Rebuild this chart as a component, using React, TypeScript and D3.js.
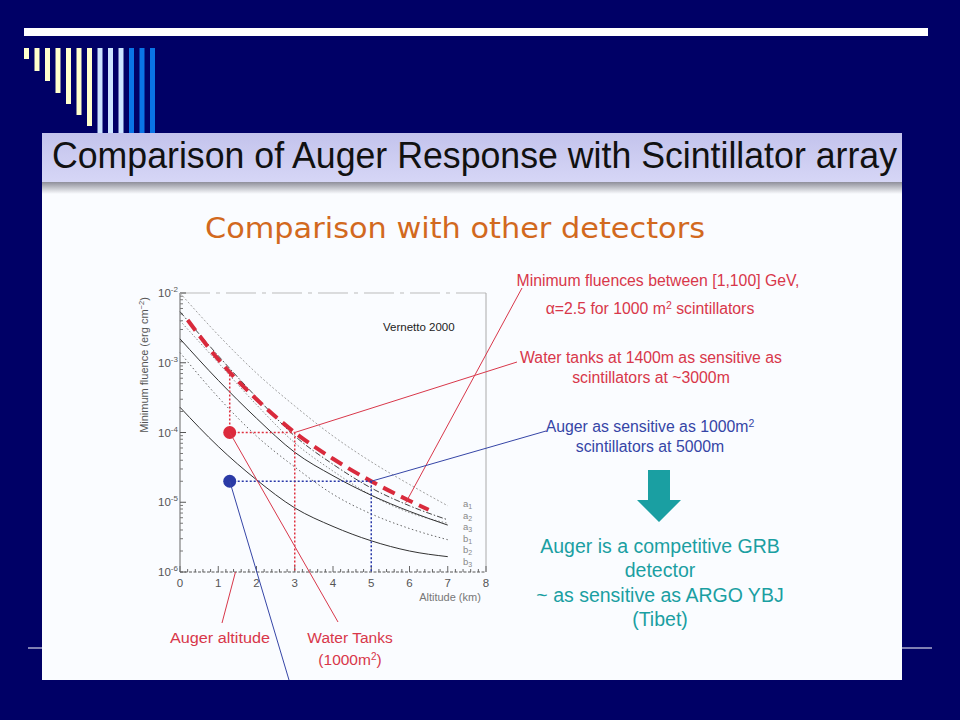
import React from 'react';
import * as d3 from 'd3';

// altitude grid (km) used by the six published curves
const altitudes = [0, 1, 2, 3, 4, 5, 6, 7];
// minimum fluence (erg cm^-2)
const curveA1 = [1.0e-2, 2.5e-3, 7.1e-4, 2.4e-4, 8.9e-5, 3.8e-5, 1.8e-5, 8.9e-6];
const curveA2 = [5.4e-3, 1.26e-3, 3.2e-4, 8.9e-5, 3.5e-5, 1.6e-5, 8.9e-6, 5.6e-6];
const curveA3 = [4.0e-3, 1.0e-3, 2.5e-4, 7.1e-5, 2.8e-5, 1.26e-5, 7.1e-6, 5.0e-6];
const curveB1 = [2.2e-3, 5.6e-4, 1.6e-4, 5.2e-5, 2.4e-5, 1.26e-5, 7.4e-6, 4.7e-6];
const curveB2 = [1.4e-3, 3.2e-4, 8.9e-5, 3.2e-5, 1.3e-5, 6.8e-6, 4.2e-6, 2.9e-6];
const curveB3 = [2.3e-4, 6.3e-5, 2.1e-5, 8.3e-6, 4.5e-6, 2.8e-6, 2.0e-6, 1.66e-6];

// highlighted scintillator curve (red dashed)
const redAlt = [0.2, 1, 2, 3, 4, 5, 6, 6.5];
const redFluence = [4.1e-3, 1.12e-3, 3.0e-4, 1.0e-4, 4.2e-5, 2.0e-5, 1.05e-5, 7.8e-6];

// marked points
const augerAlt = 1.3;
const tanksFluence = 1.0e-4;
const augerFluence = 2.0e-5;
const tanksEquivAlt = 3;
const augerEquivAlt = 5;
const tanksCurveFluence = 7.0e-4;
const augerAltMark = 1.45;

const xTicks = [0, 1, 2, 3, 4, 5, 6, 7, 8];
const yTickExps = [-2, -3, -4, -5, -6];
const legendLetters = ['a', 'a', 'a', 'b', 'b', 'b'];
const legendSubs = ['1', '2', '3', '1', '2', '3'];

const stripeLengths = [11, 23, 33, 45, 56, 67, 78, 85, 85, 85, 85, 85, 85];
const stripeColors = [
  '#ffffcc', '#ffffcc', '#ffffcc', '#ffffcc', '#ffffcc', '#ffffcc', '#ffffcc',
  '#cce4ff', '#cce4ff', '#cce4ff', '#0a74e6', '#0a74e6', '#0a74e6',
];

const RED = '#d8374a';
const BLUE = '#3545a6';
const TEAL = '#1a9fa2';

const x = d3.scaleLinear().domain([0, 8]).range([180, 486]);
const y = d3.scaleLog().domain([1e-6, 1e-2]).range([572, 293]);

const line = d3
  .line<[number, number]>()
  .x(d => x(d[0]))
  .y(d => y(d[1]))
  .curve(d3.curveMonotoneX);

const curves = [
  { values: curveA1, stroke: '#a0a0a0', dash: '2 2', w: 1 },
  { values: curveA2, stroke: '#444', dash: '6 2 1.5 2', w: 1 },
  { values: curveA3, stroke: '#888', dash: '1.5 2', w: 1 },
  { values: curveB1, stroke: '#333', dash: null, w: 1 },
  { values: curveB2, stroke: '#666', dash: '1.5 2.5', w: 1 },
  { values: curveB3, stroke: '#333', dash: null, w: 1 },
];

const minorY: number[] = [];
for (let e = -6; e < -2; e++) {
  for (let m = 2; m <= 9; m++) minorY.push(m * Math.pow(10, e));
}
const minorX = d3.range(0, 8.01, 0.2);

const App: React.FC = () => {
  const sans = "'Liberation Sans', Arial, sans-serif";
  const px = x(augerAlt);
  const redPt = [x(tanksEquivAlt), y(tanksFluence)];
  const bluePt = [x(augerEquivAlt), y(augerFluence)];
  const leaderOnCurve = [x(5.9), y(9.8e-6)];

  return (
    <svg
      width={960}
      height={720}
      style={{ position: 'absolute', left: 0, top: 0 }}
      fontFamily={sans}
    >
      <defs>
        <linearGradient id="hdr" x1="0" y1="0" x2="0" y2="1">
          <stop offset="0%" stopColor="#c3c3ec" />
          <stop offset="100%" stopColor="#d6d6f6" />
        </linearGradient>
        <linearGradient id="shadow" x1="0" y1="0" x2="0" y2="1">
          <stop offset="0%" stopColor="#8f8f9a" />
          <stop offset="100%" stopColor="#fafcff" />
        </linearGradient>
      </defs>
      <rect width={960} height={720} fill="#000066" />
      <rect x={24} y={28} width={904} height={8} fill="#ffffff" />
      {stripeLengths.map((len, i) => (
        <rect key={i} x={24 + i * 10.5} y={48} width={5} height={len} fill={stripeColors[i]} />
      ))}
      <line x1={28} x2={932} y1={648} y2={648} stroke="#ffffff" strokeWidth={1} />

      {/* slide picture */}
      <rect x={42} y={133} width={860} height={547} fill="#fafcff" />
      <rect x={42} y={133} width={860} height={49} fill="url(#hdr)" />
      <rect x={42} y={182} width={860} height={12} fill="url(#shadow)" />
      <text
        x={52}
        y={168}
        fontSize={36}
        fill="#111"
        fontFamily="'Liberation Sans Narrow', 'Liberation Sans', Arial, sans-serif"
        textLength={845}
        lengthAdjust="spacingAndGlyphs"
      >
        Comparison of Auger Response with Scintillator array
      </text>
      <text
        x={205}
        y={238}
        fontSize={28}
        fill="#d2691e"
        fontFamily="'DejaVu Sans', sans-serif"
        textLength={500}
        lengthAdjust="spacingAndGlyphs"
      >
        Comparison with other detectors
      </text>

      {/* frame */}
      <line x1={x(0)} x2={x(8)} y1={y(1e-2)} y2={y(1e-2)} stroke="#bbb" strokeDasharray="30 6 4 6" />
      <line x1={x(8)} x2={x(8)} y1={y(1e-2)} y2={y(1e-6)} stroke="#aaa" />
      <line x1={x(0)} x2={x(0)} y1={y(1e-2)} y2={y(1e-6)} stroke="#666" />
      <line x1={x(0)} x2={x(8)} y1={y(1e-6)} y2={y(1e-6)} stroke="#555" strokeDasharray="3 1.5" />
      {minorY.map((v, i) => (
        <line key={i} x1={x(0)} x2={x(0) + 3} y1={y(v)} y2={y(v)} stroke="#777" />
      ))}
      {yTickExps.map(e => (
        <line key={e} x1={x(0)} x2={x(0) + 6} y1={y(Math.pow(10, e))} y2={y(Math.pow(10, e))} stroke="#555" />
      ))}
      {minorX.map((v, i) => (
        <line key={i} x1={x(v)} x2={x(v)} y1={y(1e-6)} y2={y(1e-6) - (i % 5 === 0 ? 6 : 3)} stroke="#666" />
      ))}
      {yTickExps.map(e => (
        <text key={e} x={158} y={y(Math.pow(10, e)) + 4} fontSize={11.5} fill="#555">
          10
          <tspan dy={-5} fontSize={8}>{`-${-e}`}</tspan>
        </text>
      ))}
      {xTicks.map(t => (
        <text key={t} x={x(t)} y={587} fontSize={11.5} fill="#555" textAnchor="middle">
          {t}
        </text>
      ))}
      <text x={450} y={601} fontSize={11} fill="#777" textAnchor="middle">
        Altitude (km)
      </text>
      <text
        transform="translate(148,365) rotate(-90)"
        fontSize={11}
        fill="#555"
        textAnchor="middle"
      >
        Minimum fluence (erg cm
        <tspan dy={-4} fontSize={7.5}>−2</tspan>
        <tspan dy={4}>)</tspan>
      </text>
      <text x={383} y={331} fontSize={11.5} fill="#222">
        Vernetto 2000
      </text>
      {legendLetters.map((l, i) => (
        <text key={i} x={463} y={507 + i * 11.5} fontSize={9.5} fill="#888">
          {l}
          <tspan dy={2} fontSize={7}>{legendSubs[i]}</tspan>
        </text>
      ))}

      {/* curves */}
      {curves.map((c, i) => (
        <path
          key={i}
          d={line(altitudes.map((a, j) => [a, c.values[j]] as [number, number])) || ''}
          fill="none"
          stroke={c.stroke}
          strokeWidth={c.w}
          strokeDasharray={c.dash || undefined}
        />
      ))}
      <path
        d={line(redAlt.map((a, j) => [a, redFluence[j]] as [number, number])) || ''}
        fill="none"
        stroke="#d92a3c"
        strokeWidth={4}
        strokeDasharray="13 7"
      />

      {/* guide lines */}
      <line x1={px} x2={px} y1={y(tanksFluence)} y2={y(tanksCurveFluence)} stroke="#e0303f" strokeWidth={1.5} strokeDasharray="2 2" />
      <line x1={px} x2={redPt[0]} y1={redPt[1]} y2={redPt[1]} stroke="#e0303f" strokeWidth={1.5} strokeDasharray="2 2" />
      <line x1={redPt[0]} x2={redPt[0]} y1={redPt[1]} y2={y(1e-6)} stroke="#e0303f" strokeWidth={1.5} strokeDasharray="2 2" />
      <line x1={px} x2={bluePt[0]} y1={bluePt[1]} y2={bluePt[1]} stroke="#2838a8" strokeWidth={1.5} strokeDasharray="2 2" />
      <line x1={bluePt[0]} x2={bluePt[0]} y1={bluePt[1]} y2={y(1e-6)} stroke="#2838a8" strokeWidth={1.5} strokeDasharray="2 2" />
      <circle cx={px} cy={y(tanksFluence)} r={6.5} fill="#dc2a3c" />
      <circle cx={px} cy={y(augerFluence)} r={6.5} fill="#2a3aa6" />

      {/* leader lines */}
      <line x1={redPt[0]} y1={redPt[1]} x2={517} y2={362} stroke={RED} strokeWidth={1} />
      <line x1={leaderOnCurve[0]} y1={leaderOnCurve[1]} x2={522} y2={288} stroke={RED} strokeWidth={1} />
      <line x1={bluePt[0]} y1={bluePt[1]} x2={546} y2={431} stroke={BLUE} strokeWidth={1} />
      <line x1={px} y1={y(tanksFluence)} x2={338} y2={622} stroke={RED} strokeWidth={1} />
      <line x1={px} y1={y(augerFluence)} x2={289} y2={680} stroke={BLUE} strokeWidth={1} />
      <line x1={x(augerAltMark)} y1={y(1e-6)} x2={222} y2={623} stroke={RED} strokeWidth={1} />

      {/* annotation texts */}
      <g fontSize={15.8} textAnchor="middle">
        <text x={658} y={286} fill={RED}>Minimum fluences between [1,100] GeV,</text>
        <text x={650} y={314} fill={RED}>
          α=2.5 for 1000 m<tspan dy={-5} fontSize={10.5}>2</tspan>
          <tspan dy={5}> scintillators</tspan>
        </text>
        <text x={651} y={363} fill={RED}>Water tanks at 1400m as sensitive as</text>
        <text x={651} y={383} fill={RED}>scintillators at ~3000m</text>
        <text x={650} y={432} fill={BLUE}>
          Auger as sensitive as 1000m<tspan dy={-5} fontSize={10.5}>2</tspan>
        </text>
        <text x={650} y={452} fill={BLUE}>scintillators at 5000m</text>
      </g>
      <g fontSize={15.5} textAnchor="middle">
        <text x={220} y={643} fill={RED} textLength={100} lengthAdjust="spacingAndGlyphs">Auger altitude</text>
        <text x={350} y={643} fill={RED}>Water Tanks</text>
        <text x={350} y={665} fill={RED}>
          (1000m<tspan dy={-5} fontSize={10}>2</tspan>
          <tspan dy={5}>)</tspan>
        </text>
      </g>
      <path d="M648,470 H670 V500 H681 L659,522 L637,500 H648 Z" fill={TEAL} />
      <g fontSize={19.5} textAnchor="middle" fill={TEAL}>
        <text x={660} y={553}>Auger is a competitive GRB</text>
        <text x={660} y={577}>detector</text>
        <text x={660} y={602}>~ as sensitive as ARGO YBJ</text>
        <text x={660} y={626}>(Tibet)</text>
      </g>
    </svg>
  );
};

export default App;
